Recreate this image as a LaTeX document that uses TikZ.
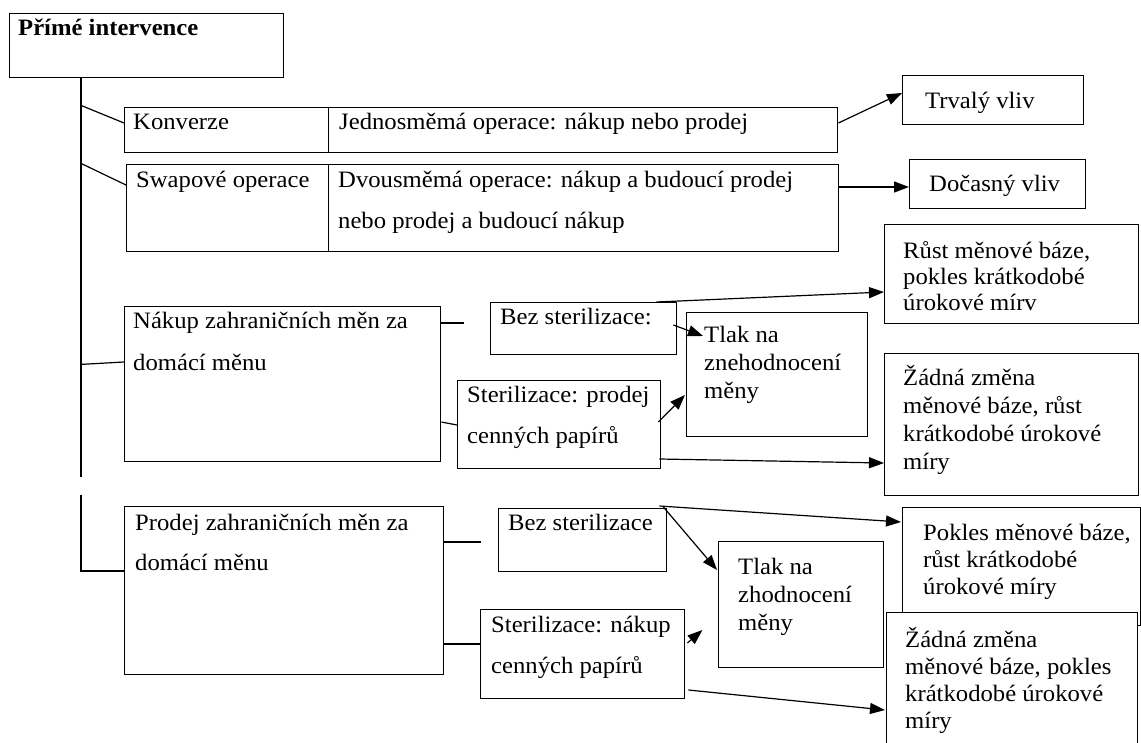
\documentclass[tikz,border=0pt]{standalone}
\usepackage{fontspec}
\setmainfont{Liberation Serif}[FakeStretch=1.05]
\usetikzlibrary{arrows.meta,calc}
\newcommand{\ml}[2]{\parbox[t]{600pt}{\raggedright\fontsize{23.5pt}{#1pt}\selectfont #2}}
\tikzset{
  box/.style={draw, line width=1.4pt, anchor=north west, inner sep=0pt, fill=white},
  txt/.style={anchor=base west, inner sep=0pt, font=\fontsize{23.5pt}{27pt}\selectfont},
  conn/.style={line width=1.2pt},
  arr/.style={line width=1.2pt, -{Triangle[length=15pt,width=11pt]}}
}
\begin{document}
\begin{tikzpicture}[x=1pt,y=-1pt]
\clip (0,0) rectangle (1141,742);
\useasboundingbox (0,0) rectangle (1141,742);
% boxes
\node[box, minimum width=274pt, minimum height=64pt] (top) at (9,13) {};
\node[box, minimum width=204pt, minimum height=45pt] (konv) at (124,107) {};
\node[box, minimum width=509pt, minimum height=45pt] (jedn) at (328,107) {};
\node[box, minimum width=202pt, minimum height=87pt] (swap) at (126,164) {};
\node[box, minimum width=510pt, minimum height=87pt] (dvou) at (328,164) {};
\node[box, minimum width=181pt, minimum height=49pt] (trv) at (902,75) {};
\node[box, minimum width=176pt, minimum height=49pt] (doc) at (909,159) {};
\node[box, minimum width=254pt, minimum height=99pt] (rust) at (884,224) {};
\node[box, minimum width=254pt, minimum height=142pt] (zad1) at (884,353) {};
\node[box, minimum width=316pt, minimum height=155pt] (nak) at (124,306) {};
\node[box, minimum width=186pt, minimum height=52pt] (bez1) at (490,302) {};
\node[box, minimum width=203pt, minimum height=88pt] (ster1) at (457,380) {};
\node[box, minimum width=181pt, minimum height=124pt] (tlak1) at (686,312) {};
\node[box, minimum width=319pt, minimum height=168pt] (prod) at (124,506) {};
\node[box, minimum width=168pt, minimum height=63pt] (bez2) at (498,508) {};
\node[box, minimum width=204pt, minimum height=89pt] (ster2) at (480,609) {};
\node[box, minimum width=165pt, minimum height=126pt] (tlak2) at (718,541) {};
\node[box, minimum width=238pt, minimum height=118pt] (pok) at (902,507) {};
\node[box, minimum width=251pt, minimum height=148pt] (zad2) at (886,612) {};
% texts
\node[txt, font=\fontsize{23.5pt}{27pt}\selectfont\bfseries] (t-top) at (18,35) {Přímé intervence};
\node[txt] (t-konv) at (133,129) {Konverze};
\node[txt] (t-jedn) at (339,129) {Jednosměmá operace: nákup nebo prodej};
\node[txt] (t-swap) at (136,187) {Swapové operace};
\node[txt] (t-dvou) at (338,187) {\ml{41}{Dvousměmá operace: nákup a budoucí prodej\\nebo prodej a budoucí nákup}};
\node[txt] (t-trv) at (925,108) {Trvalý vliv};
\node[txt] (t-doc) at (929,191) {Dočasný vliv};
\node[txt] (t-rust) at (903,258) {\ml{26}{Růst měnové báze,\\pokles krátkodobé\\úrokové mírv}};
\node[txt] (t-zad1) at (903,385) {\ml{28}{Žádná změna\\měnové báze, růst\\krátkodobé úrokové\\míry}};
\node[txt] (t-nak) at (133,328) {\ml{42}{Nákup zahraničních měn za\\domácí měnu}};
\node[txt] (t-bez1) at (500,324) {Bez sterilizace:};
\node[txt] (t-ster1) at (467,402) {\ml{41}{Sterilizace: prodej\\cenných papírů}};
\node[txt] (t-tlak1) at (704,342) {\ml{28}{Tlak na\\znehodnocení\\měny}};
\node[txt] (t-prod) at (135,530) {\ml{40}{Prodej zahraničních měn za\\domácí měnu}};
\node[txt] (t-bez2) at (508,530) {Bez sterilizace};
\node[txt] (t-ster2) at (491,632) {\ml{41}{Sterilizace: nákup\\cenných papírů}};
\node[txt] (t-tlak2) at (738,574) {\ml{28}{Tlak na\\zhodnocení\\měny}};
\node[txt] (t-pok) at (923,540) {\ml{27}{Pokles měnové báze,\\růst krátkodobé\\úrokové míry}};
\node[txt] (t-zad2) at (905,647) {\ml{27}{Žádná změna\\měnové báze, pokles\\krátkodobé úrokové\\míry}};
% spine
\coordinate (s0) at ($(top.south west)+(72,0)$);
\coordinate (s1) at ($(s0)+(0,399)$);
\coordinate (s2) at ($(s0)+(0,417)$);
\draw[conn] (s0) -- (s1);
\draw[conn] (s2) |- ($(prod.north west)+(0,65)$);
\draw[conn] ($(s0)+(0,27)$) -- ($(konv.north west)+(0,16)$);
\draw[conn] ($(s0)+(0,85)$) -- ($(swap.north west)+(0,21)$);
\draw[conn] ($(s0)+(0,286)$) -- ($(nak.north west)+(0,56)$);
% effects
\draw[arr] ($(jedn.north east)+(0,16)$) -- ($(trv.north west)+(0,18)$);
\draw[arr] ($(dvou.north east)+(0,23)$) -- ($(doc.north west)+(0,28)$);
% purchase branch
\coordinate (nakstub) at ($(nak.north east)+(23,17)$);
\draw[conn] ($(nak.north east)+(0,17)$) -- (nakstub);
\draw[conn] ($(nak.north east)+(0,116)$) -- ($(ster1.north west)+(0,45)$);
\draw[arr] ($(bez1.north east)+(-21,0)$) -- ($(rust.north west)+(0,68)$);
\draw[arr] ($(bez1.north east)+(-4,23)$) -- ($(tlak1.north west)+(17,24)$);
\draw[arr] ($(ster1.north east)+(-3,42)$) -- ($(tlak1.north west)+(-1,83)$);
\draw[arr] ($(ster1.north east)+(-2,79)$) -- ($(zad1.north west)+(0,110)$);
% sale branch
\coordinate (prodstub) at ($(prod.north east)+(37,36)$);
\draw[conn] ($(prod.north east)+(0,36)$) -- (prodstub);
\draw[conn] ($(prod.north east)+(0,138)$) -- ($(ster2.north west)+(0,35)$);
\draw[arr] ($(bez2.north east)+(-8,-2)$) -- ($(pok.north west)+(-1,15)$);
\draw[arr] ($(bez2.north east)+(-4,-1)$) -- ($(tlak2.north west)+(-1,29)$);
\coordinate (ster2tip) at ($(ster2.north east)+(17,21)$);
\draw[arr] ($(ster2.north east)+(2,34)$) -- (ster2tip);
\draw[arr] ($(ster2.north east)+(3,81)$) -- ($(zad2.north west)+(-1,98)$);
\end{tikzpicture}
\end{document}
